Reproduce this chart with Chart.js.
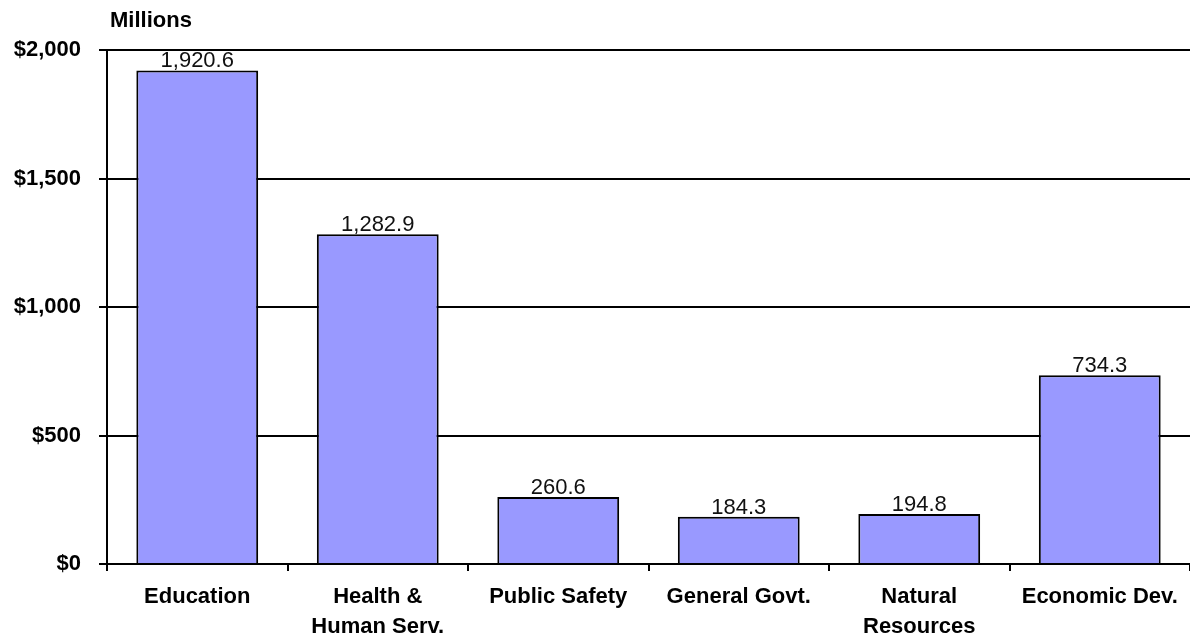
<!DOCTYPE html>
<html>
<head>
<meta charset="utf-8">
<script src="https://cdn.jsdelivr.net/npm/chart.js@4"></script>
<style>
  html, body { margin: 0; padding: 0; background: #fff; }
  #wrap { width: 1190px; height: 636px; position: relative; }
</style>
</head>
<body>
<div id="wrap"><canvas id="c"></canvas></div>
<script>
const categories = ["Education", ["Health &", "Human Serv."], "Public Safety", "General Govt.", ["Natural", "Resources"], "Economic Dev."];
const values = [1920.6, 1282.9, 260.6, 184.3, 194.8, 734.3];
const yTicks = [0, 500, 1000, 1500, 2000];
const unitLabel = "Millions";

const FONT = "'Liberation Sans', Arial, sans-serif";

const labelPlugin = {
  id: 'valueLabels',
  afterDatasetsDraw(chart) {
    const ctx = chart.ctx;
    const meta = chart.getDatasetMeta(0);
    ctx.save();
    ctx.font = "22px " + FONT;
    ctx.fillStyle = "#111";
    ctx.textAlign = "center";
    ctx.textBaseline = "alphabetic";
    meta.data.forEach((bar, i) => {
      const v = values[i];
      const txt = v.toLocaleString('en-US', {minimumFractionDigits: 1, maximumFractionDigits: 1});
      ctx.fillText(txt, bar.x, bar.y - 3);
    });
    ctx.font = "bold 22px " + FONT;
    ctx.textAlign = "left";
    ctx.fillStyle = "#000";
    ctx.fillText(unitLabel, chart.chartArea.left + 3, 27);
    ctx.restore();
  }
};

new Chart(document.getElementById('c'), {
  type: 'bar',
  data: {
    labels: categories,
    datasets: [{
      data: values,
      backgroundColor: '#9999FF',
      borderColor: '#000',
      borderWidth: 2,
      categoryPercentage: 1.0,
      barPercentage: 0.675
    }]
  },
  options: {
    responsive: true,
    maintainAspectRatio: false,
    animation: false,
    devicePixelRatio: 1,
    layout: { padding: { top: 50, right: 0, bottom: 0, left: 0 } },
    plugins: { legend: { display: false }, tooltip: { enabled: false } },
    scales: {
      x: {
        afterFit(scale) { scale.height = 72; },
        grid: { drawOnChartArea: false, drawTicks: true, tickLength: 7, color: '#000', lineWidth: 2 },
        border: { display: true, color: '#000', width: 2 },
        ticks: {
          color: '#000',
          font: { family: FONT, size: 22, weight: 'bold', lineHeight: 1.36 },
          padding: 11,
          maxRotation: 0,
          autoSkip: false
        }
      },
      y: {
        min: 0,
        max: 2000,
        afterFit(scale) { scale.width = 107; },
        afterBuildTicks(scale) { scale.ticks = yTicks.map(v => ({ value: v })); },
        grid: { color: '#000', lineWidth: 2, drawTicks: true, tickLength: 8 },
        border: { display: true, color: '#000', width: 2 },
        ticks: {
          color: '#000',
          font: { family: FONT, size: 22, weight: 'bold' },
          padding: 18,
          callback: (v) => '$' + Number(v).toLocaleString('en-US')
        }
      }
    }
  },
  plugins: [labelPlugin]
});
</script>
</body>
</html>
